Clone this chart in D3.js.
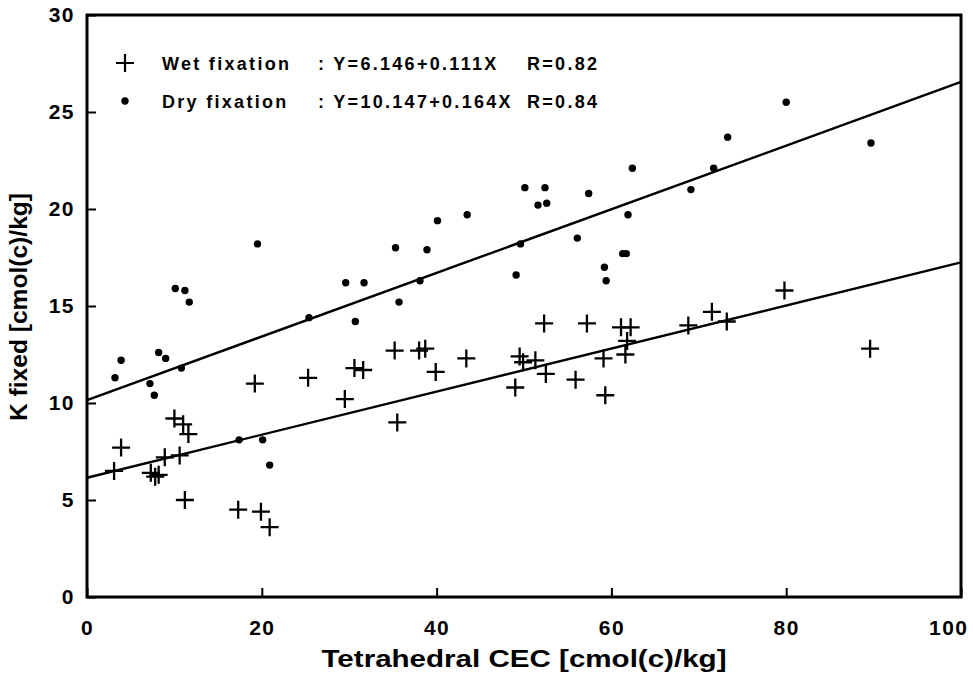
<!DOCTYPE html>
<html>
<head>
<meta charset="utf-8">
<script src="https://cdn.jsdelivr.net/npm/d3@7"></script>
<style>
  html, body { margin: 0; padding: 0; background: #fff; }
  svg { display: block; }
  .tick-label { font-family: "Liberation Sans", Arial, sans-serif; font-weight: bold; font-size: 21px; fill: #000; letter-spacing: 1.5px; }
  .axis-title { font-family: "Liberation Sans Narrow", "Liberation Sans", Arial, sans-serif; font-weight: bold; font-size: 24px; fill: #000; }
  .legend-text { font-family: "Liberation Sans", Arial, sans-serif; font-weight: bold; font-size: 18px; fill: #000; letter-spacing: 2.3px; }
</style>
</head>
<body>
<svg id="chart" width="973" height="675"></svg>
<script>
// Wet fixation: tetrahedral CEC (x) vs K fixed (y)
const wetX = [3.9, 3.1, 7.3, 7.8, 8.2, 8.9, 10.6, 10.0, 11.0, 11.6, 11.2, 19.2, 25.3, 30.6, 31.6, 29.5, 17.3, 19.9, 20.9,
              35.2, 38.0, 38.7, 39.9, 43.4, 35.5, 49.5, 49.9, 51.3, 49.0, 52.3, 52.5, 55.9, 57.2, 59.1, 59.3, 61.1, 62.2, 61.6, 61.8,
              68.8, 71.5, 73.2, 79.8, 89.6];
const wetY = [7.7, 6.5, 6.4, 6.2, 6.3, 7.2, 7.3, 9.2, 8.9, 8.4, 5.0, 11.0, 11.3, 11.8, 11.7, 10.2, 4.5, 4.4, 3.6,
              12.7, 12.7, 12.8, 11.6, 12.3, 9.0, 12.4, 12.1, 12.2, 10.8, 14.1, 11.5, 11.2, 14.1, 12.3, 10.4, 13.9, 13.9, 12.5, 13.2,
              14.0, 14.7, 14.2, 15.8, 12.8];

// Dry fixation
const dryX = [3.9, 3.2, 8.2, 9.0, 10.8, 7.2, 7.7, 17.4, 20.1, 20.9,
              19.5, 10.1, 11.2, 11.7, 29.6, 31.7, 25.4, 30.7,
              35.3, 38.9, 40.1, 43.5, 38.1, 35.7, 50.1, 52.4, 51.6, 52.6, 57.4, 62.4, 61.9, 49.6, 49.1, 56.1, 59.2, 59.4, 61.3, 61.7,
              69.1, 71.7, 73.3, 80.0, 89.7];
const dryY = [12.2, 11.3, 12.6, 12.3, 11.8, 11.0, 10.4, 8.1, 8.1, 6.8,
              18.2, 15.9, 15.8, 15.2, 16.2, 16.2, 14.4, 14.2,
              18.0, 17.9, 19.4, 19.7, 16.3, 15.2, 21.1, 21.1, 20.2, 20.3, 20.8, 22.1, 19.7, 18.2, 16.6, 18.5, 17.0, 16.3, 17.7, 17.7,
              21.0, 22.1, 23.7, 25.5, 23.4];

// Regression fits (intercept, slope) and correlation
const wetFit = { a: 6.146, b: 0.111, r: 0.82 };
const dryFit = { a: 10.147, b: 0.164, r: 0.84 };

const xTicks = [0, 20, 40, 60, 80, 100];
const yTicks = [0, 5, 10, 15, 20, 25, 30];
const xDomain = [0, 100];
const yDomain = [0, 30];

const legendRows = [
  { name: "Wet fixation", eq: ": Y=6.146+0.111X", r: "R=0.82", sym: "cross" },
  { name: "Dry fixation", eq: ": Y=10.147+0.164X", r: "R=0.84", sym: "dot" }
];

const svg = d3.select("#chart");
const plot = { left: 87, right: 961, top: 15, bottom: 597 };

const x = d3.scaleLinear().domain(xDomain).range([plot.left, plot.right]);
const y = d3.scaleLinear().domain(yDomain).range([plot.bottom, plot.top]);

// Frame
svg.append("rect")
  .attr("x", plot.left).attr("y", plot.top)
  .attr("width", plot.right - plot.left).attr("height", plot.bottom - plot.top)
  .attr("fill", "none").attr("stroke", "#000").attr("stroke-width", 3);

// Axes with inward ticks
const xAxis = svg.append("g").attr("transform", `translate(0,${plot.bottom})`)
  .call(d3.axisBottom(x).tickValues(xTicks).tickSize(-9).tickPadding(31).tickFormat(d3.format("d")));
const yAxis = svg.append("g").attr("transform", `translate(${plot.left},0)`)
  .call(d3.axisLeft(y).tickValues(yTicks).tickSize(-9).tickPadding(12).tickFormat(d3.format("d")));
[xAxis, yAxis].forEach(g => {
  g.select(".domain").remove();
  g.selectAll(".tick line").attr("stroke", "#000").attr("stroke-width", 2);
  g.selectAll(".tick text").attr("class", "tick-label").attr("fill", "#000");
});
xAxis.selectAll(".tick text").attr("dy", "0.35em");
// keep the last x label inside the frame edge
xAxis.selectAll(".tick text").filter(d => d === xDomain[1])
  .attr("text-anchor", "end").attr("x", 968 - x(xDomain[1]));

// Axis titles
svg.append("text").attr("class", "axis-title")
  .attr("x", (plot.left + plot.right) / 2).attr("y", 667)
  .attr("text-anchor", "middle")
  .attr("textLength", 405).attr("lengthAdjust", "spacingAndGlyphs")
  .text("Tetrahedral CEC [cmol(c)/kg]");
svg.append("text").attr("class", "axis-title")
  .attr("transform", `translate(27,307) rotate(-90)`)
  .attr("text-anchor", "middle")
  .attr("textLength", 228).attr("lengthAdjust", "spacingAndGlyphs")
  .text("K fixed [cmol(c)/kg]");

// Regression lines
const fitLine = fit => d3.line()(xDomain.map(v => [x(v), y(fit.a + fit.b * v)]));
[wetFit, dryFit].forEach(fit => {
  svg.append("path").attr("d", fitLine(fit))
    .attr("fill", "none").attr("stroke", "#000").attr("stroke-width", 2.4);
});

// Markers
const crossPath = (cx, cy, s) => `M${cx - s},${cy}H${cx + s}M${cx},${cy - s}V${cy + s}`;
svg.append("g").selectAll("path").data(d3.zip(wetX, wetY)).join("path")
  .attr("d", d => crossPath(x(d[0]), y(d[1]), 9))
  .attr("stroke", "#000").attr("stroke-width", 2.3).attr("fill", "none");
svg.append("g").selectAll("circle").data(d3.zip(dryX, dryY)).join("circle")
  .attr("cx", d => x(d[0])).attr("cy", d => y(d[1])).attr("r", 3.7)
  .attr("fill", "#000");

// Legend
const legend = svg.append("g");
legendRows.forEach((row, i) => {
  const cy = 63 + i * 38;
  if (row.sym === "cross") {
    legend.append("path").attr("d", crossPath(125, cy, 9))
      .attr("stroke", "#000").attr("stroke-width", 2.2);
  } else {
    legend.append("circle").attr("cx", 125).attr("cy", cy).attr("r", 3.7).attr("fill", "#000");
  }
  legend.append("text").attr("class", "legend-text").attr("x", 162).attr("y", cy + 7).text(row.name);
  legend.append("text").attr("class", "legend-text").attr("x", 318).attr("y", cy + 7).text(row.eq);
  legend.append("text").attr("class", "legend-text").attr("x", 527).attr("y", cy + 7).text(row.r);
});
</script>
</body>
</html>
